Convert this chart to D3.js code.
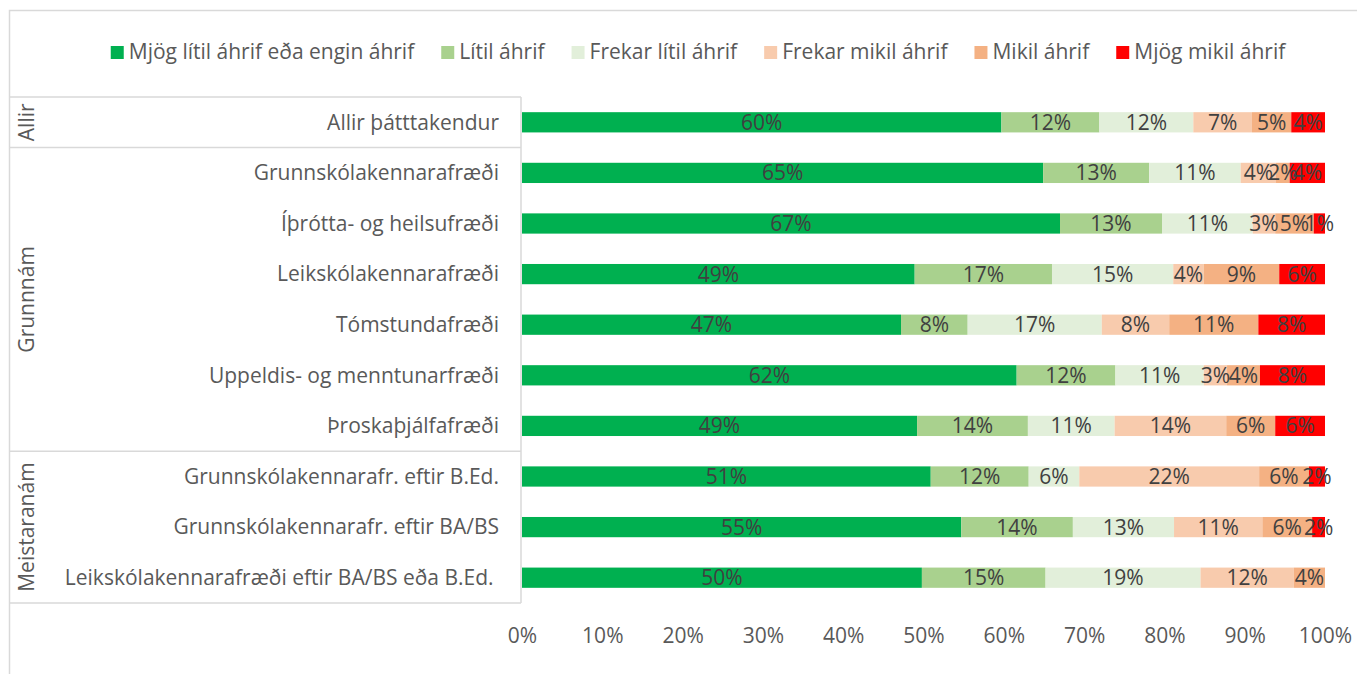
<!DOCTYPE html>
<html>
<head>
<meta charset="utf-8">
<script src="https://cdn.jsdelivr.net/npm/d3@7"></script>
<style>
  html, body { margin: 0; padding: 0; background: #fff; }
  svg { display: block; font-family: "Open Sans", sans-serif; }
</style>
</head>
<body>
<svg id="chart" width="1357" height="674"></svg>
<script>
// ---------- data ----------
const categories = [
  "Allir þátttakendur",
  "Grunnskólakennarafræði",
  "Íþrótta- og heilsufræði",
  "Leikskólakennarafræði",
  "Tómstundafræði",
  "Uppeldis- og menntunarfræði",
  "Þroskaþjálfafræði",
  "Grunnskólakennarafr. eftir B.Ed.",
  "Grunnskólakennarafr. eftir BA/BS",
  "Leikskólakennarafræði eftir BA/BS eða B.Ed. "
];
const groupNames = ["Allir", "Grunnnám", "Meistaranám"];
const groupSizes = [1, 6, 3];

const seriesNames = [
  "Mjög lítil áhrif eða engin áhrif",
  "Lítil áhrif",
  "Frekar lítil áhrif",
  "Frekar mikil áhrif",
  "Mikil áhrif",
  "Mjög mikil áhrif"
];
const seriesColors = ["#00B050", "#A9D18E", "#E2EFDA", "#F8CBAD", "#F4B183", "#FF0000"];

// values in percent, one array per series, in category order
const mjogLitil   = [59.7, 64.9, 67.0, 48.9, 47.2, 61.6, 49.2, 50.9, 54.7, 49.8];
const litil       = [12.2, 13.2, 12.7, 17.1,  8.3, 12.3, 13.8, 12.2, 13.9, 15.4];
const frekarLitil = [11.7, 11.4, 11.3, 15.1, 16.7, 11.0, 10.8,  6.3, 12.6, 19.3];
const frekarMikil = [ 7.3,  4.4,  2.8,  3.8,  8.4,  2.9, 13.9, 22.4, 11.0, 11.6];
const mikil       = [ 4.9,  1.7,  4.8,  9.4, 11.1,  4.1,  6.1,  6.2,  6.2,  3.9];
const mjogMikil   = [ 4.2,  4.4,  1.4,  5.7,  8.3,  8.1,  6.2,  2.0,  1.6,  0.0];

const xTicks = [0, 10, 20, 30, 40, 50, 60, 70, 80, 90, 100];

// ---------- build ----------
const FS = 21;
const seriesValues = [mjogLitil, litil, frekarLitil, frekarMikil, mikil, mjogMikil];
const table = categories.map((c, i) => {
  const row = { cat: c };
  seriesNames.forEach((s, j) => row[s] = seriesValues[j][i]);
  return row;
});
const stacked = d3.stack().keys(seriesNames)(table);

const svg = d3.select("#chart");
const W = 1357, H = 674;

const x = d3.scaleLinear().domain([0, 100]).range([522, 1325]);
const y = d3.scaleBand().domain(categories).range([97, 603]).paddingInner(0.6).paddingOuter(0.3);
const color = d3.scaleOrdinal().domain(seriesNames).range(seriesColors);

// outer chart border (right/bottom off-canvas)
svg.append("rect")
  .attr("x", 9.5).attr("y", 10.5)
  .attr("width", W + 20).attr("height", H + 20)
  .attr("fill", "none").attr("stroke", "#D9D9D9").attr("stroke-width", 1.5);

// category table
const step = y.step();
const tableTop = y.range()[0];
const tableLeft = 9.5, tableRight = 521;
const gTable = svg.append("g");
let acc = 0;
const bounds = [0];
groupSizes.forEach(n => { acc += n; bounds.push(acc); });
bounds.forEach(b => {
  gTable.append("line")
    .attr("x1", tableLeft).attr("x2", tableRight)
    .attr("y1", tableTop + b * step).attr("y2", tableTop + b * step)
    .attr("stroke", "#D9D9D9").attr("stroke-width", 1.5);
});
gTable.append("line")
  .attr("x1", tableRight).attr("x2", tableRight)
  .attr("y1", tableTop).attr("y2", tableTop + bounds[bounds.length - 1] * step)
  .attr("stroke", "#D9D9D9").attr("stroke-width", 1.5);

groupNames.forEach((g, i) => {
  const cy = tableTop + (bounds[i] + bounds[i + 1]) / 2 * step;
  gTable.append("text")
    .attr("transform", `translate(34,${cy}) rotate(-90)`)
    .attr("text-anchor", "middle")
    .attr("font-size", FS)
    .attr("fill", "#595959")
    .text(g);
});

// category labels
svg.append("g").selectAll("text").data(categories).join("text")
  .attr("x", 499)
  .attr("y", d => y(d) + y.bandwidth() / 2)
  .attr("dy", "0.35em")
  .attr("text-anchor", "end")
  .attr("font-size", FS)
  .attr("fill", "#595959")
  .style("white-space", "pre")
  .text(d => d);

// bars
const gBars = svg.append("g");
stacked.forEach(layer => {
  const g = gBars.append("g").attr("fill", color(layer.key));
  g.selectAll("rect").data(layer.filter(d => d[1] - d[0] > 0)).join("rect")
    .attr("x", d => x(d[0]))
    .attr("y", d => y(d.data.cat))
    .attr("width", d => x(d[1]) - x(d[0]))
    .attr("height", y.bandwidth());
});
// labels
stacked.forEach(layer => {
  gBars.append("g").selectAll("text").data(layer.filter(d => d[1] - d[0] > 0)).join("text")
    .attr("x", d => x((d[0] + d[1]) / 2))
    .attr("y", d => y(d.data.cat) + y.bandwidth() / 2)
    .attr("dy", "0.36em")
    .attr("text-anchor", "middle")
    .attr("font-size", FS)
    .attr("fill", "#404040")
    .text(d => Math.round(d[1] - d[0]) + "%");
});

// x axis
const xAxis = d3.axisBottom(x).tickValues(xTicks).tickFormat(d => d + "%").tickSize(0).tickPadding(0);
const gx = svg.append("g").attr("transform", "translate(0,628)").call(xAxis);
gx.select(".domain").remove();
gx.selectAll("text").attr("font-size", FS).attr("fill", "#595959").attr("font-family", "Open Sans, sans-serif");

// legend
const legend = svg.append("g");
let lx = 0;
seriesNames.forEach((s, i) => {
  const it = legend.append("g");
  it.append("rect").attr("x", 0).attr("y", -6).attr("width", 13).attr("height", 13).attr("fill", seriesColors[i]);
  const t = it.append("text").attr("x", 18).attr("y", 0).attr("dy", "0.35em")
    .attr("font-size", FS).attr("fill", "#595959").text(s);
  const w = t.node().getComputedTextLength();
  it.attr("transform", `translate(${lx},0)`);
  lx += 18 + w + 27;
});
const legendW = lx - 27;
legend.attr("transform", `translate(${698 - legendW / 2},52)`);
</script>
</body>
</html>
